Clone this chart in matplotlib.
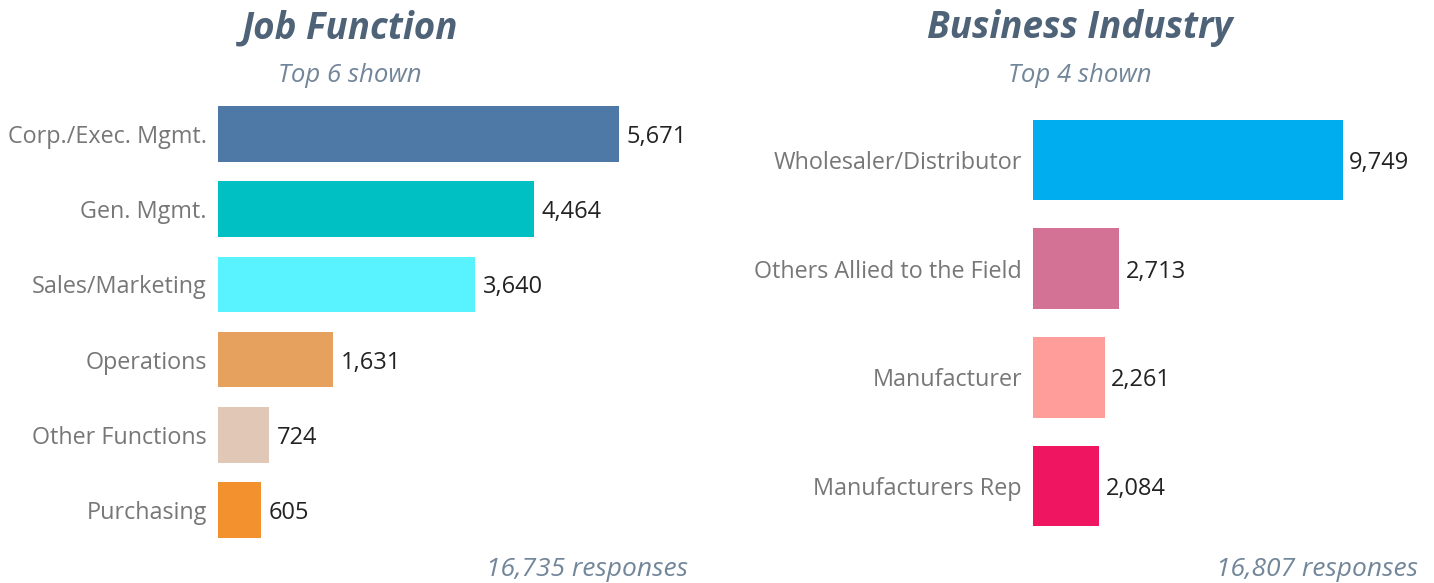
import matplotlib.pyplot as plt

job_labels = ["Corp./Exec. Mgmt.", "Gen. Mgmt.", "Sales/Marketing", "Operations",
              "Other Functions", "Purchasing"]
job_values = [5671, 4464, 3640, 1631, 724, 605]
job_colors = ["#4E79A7", "#00C0C3", "#58F3FF", "#E6A15F", "#E1C7B5", "#F3912E"]
job_total = "16,735 responses"

ind_labels = ["Wholesaler/Distributor", "Others Allied to the Field", "Manufacturer",
              "Manufacturers Rep"]
ind_values = [9749, 2713, 2261, 2084]
ind_colors = ["#00ADEE", "#D37295", "#FF9D9A", "#EF1560"]
ind_total = "16,807 responses"

plt.rcParams['font.family'] = ['Open Sans', 'DejaVu Sans']

W, H = 1434, 583
fig = plt.figure(figsize=(W / 100, H / 100), dpi=100)

title_col = "#4E6378"
sub_col = "#72869A"
lab_col = "#777777"
val_col = "#222222"


def panel(rect, labels, values, colors, xmax, title, sub, total, tx, total_x):
    ax = fig.add_axes(rect)
    ys = range(len(values))
    ax.barh(ys, values, height=0.74, color=colors)
    ax.set_xlim(0, xmax)
    ax.set_ylim(len(values) - 0.5, -0.5)
    for y, v in zip(ys, values):
        ax.text(v + xmax * 0.016, y, f"{v:,}", va="center_baseline", ha="left",
                fontsize=17, color=val_col)
    ax.set_yticks(list(ys))
    ax.set_yticklabels(labels, fontsize=16.8, color=lab_col, va="center_baseline")
    ax.tick_params(axis="y", length=0, pad=8)
    ax.set_xticks([])
    for s in ax.spines.values():
        s.set_visible(False)
    fig.text(tx / W, 1 - 28 / H, title, ha="center", va="center",
             fontsize=26.5, fontweight="bold", style="italic", color=title_col)
    fig.text(tx / W, 1 - 75 / H, sub, ha="center", va="center",
             fontsize=18.5, style="italic", color=sub_col)
    fig.text(total_x / W, 1 - 570 / H, total, ha="right", va="center",
             fontsize=19, style="italic", color=sub_col)
    return ax


# left panel: axes left at 218 px, 5671 ends at 619 px
lw = 472
panel([218 / W, 1 - 547.6 / H, lw / W, 451.2 / H], job_labels, job_values, job_colors,
      lw * 5671 / (619 - 218), "Job Function", "Top 6 shown", job_total, 350, 688)

# right panel: axes left at 1033 px, 9749 ends at 1343 px
rw = 387
panel([1033 / W, 1 - 540.3 / H, rw / W, 434.6 / H], ind_labels, ind_values, ind_colors,
      rw * 9749 / (1343 - 1033), "Business Industry", "Top 4 shown", ind_total, 1080, 1418)

fig.savefig("out.png", dpi=100)
